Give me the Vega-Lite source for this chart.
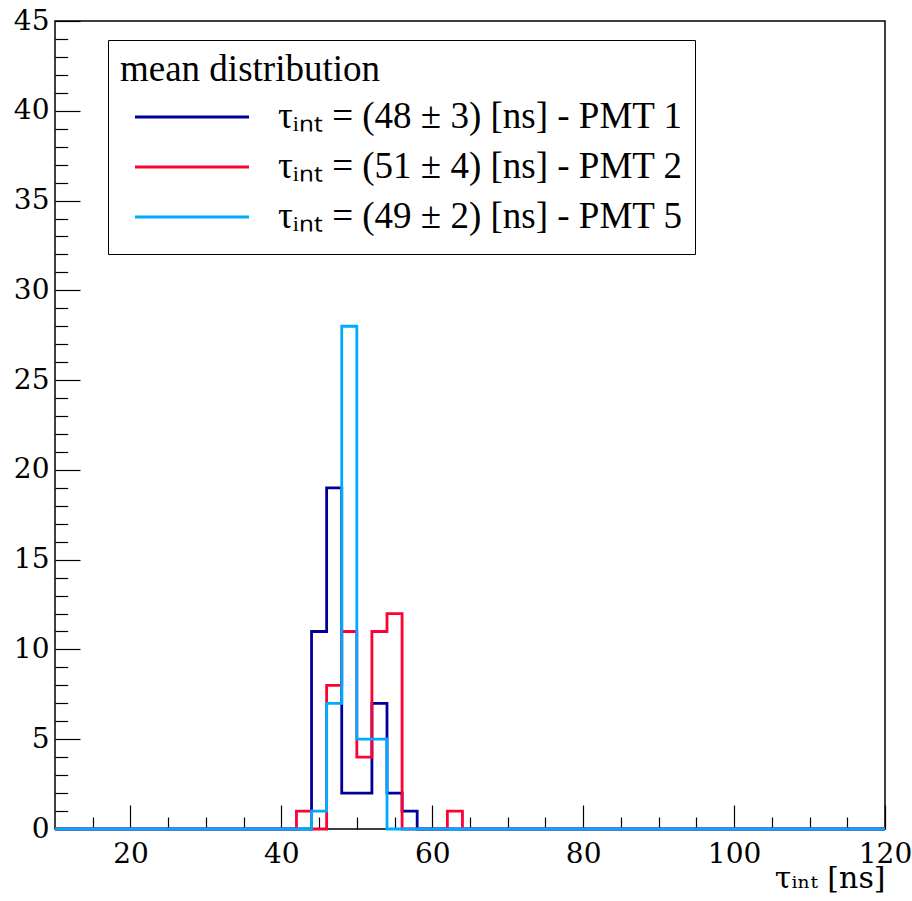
{
  "$schema": "https://vega.github.io/schema/vega-lite/v6.json",
  "autosize": "none",
  "width": 830,
  "height": 808,
  "padding": {"left": 55, "top": 21, "right": 27, "bottom": 72},
  "background": "white",
  "config": {
    "view": {"stroke": "black", "strokeWidth": 1.5},
    "font": "Liberation Serif",
    "axis": {"grid": false, "domain": false, "tickColor": "black", "labelColor": "black", "labelFontSize": 28, "titleFontSize": 30, "titleFontWeight": "normal", "titleColor": "black", "tickWidth": 1.2}
  },
  "data": {"values": [
    {"pmt": "PMT 1", "x": 10, "n": 0},
    {"pmt": "PMT 1", "x": 42, "n": 0},
    {"pmt": "PMT 1", "x": 44, "n": 11},
    {"pmt": "PMT 1", "x": 46, "n": 19},
    {"pmt": "PMT 1", "x": 48, "n": 2},
    {"pmt": "PMT 1", "x": 50, "n": 2},
    {"pmt": "PMT 1", "x": 52, "n": 7},
    {"pmt": "PMT 1", "x": 54, "n": 2},
    {"pmt": "PMT 1", "x": 56, "n": 1},
    {"pmt": "PMT 1", "x": 58, "n": 0},
    {"pmt": "PMT 1", "x": 120, "n": 0},
    {"pmt": "PMT 2", "x": 10, "n": 0},
    {"pmt": "PMT 2", "x": 42, "n": 1},
    {"pmt": "PMT 2", "x": 44, "n": 0},
    {"pmt": "PMT 2", "x": 46, "n": 8},
    {"pmt": "PMT 2", "x": 48, "n": 11},
    {"pmt": "PMT 2", "x": 50, "n": 4},
    {"pmt": "PMT 2", "x": 52, "n": 11},
    {"pmt": "PMT 2", "x": 54, "n": 12},
    {"pmt": "PMT 2", "x": 56, "n": 0},
    {"pmt": "PMT 2", "x": 58, "n": 0},
    {"pmt": "PMT 2", "x": 60, "n": 0},
    {"pmt": "PMT 2", "x": 62, "n": 1},
    {"pmt": "PMT 2", "x": 64, "n": 0},
    {"pmt": "PMT 2", "x": 120, "n": 0},
    {"pmt": "PMT 5", "x": 10, "n": 0},
    {"pmt": "PMT 5", "x": 42, "n": 0},
    {"pmt": "PMT 5", "x": 44, "n": 1},
    {"pmt": "PMT 5", "x": 46, "n": 7},
    {"pmt": "PMT 5", "x": 48, "n": 28},
    {"pmt": "PMT 5", "x": 50, "n": 5},
    {"pmt": "PMT 5", "x": 52, "n": 5},
    {"pmt": "PMT 5", "x": 54, "n": 0},
    {"pmt": "PMT 5", "x": 120, "n": 0}
  ]},
  "layer": [
    {
      "mark": {"type": "line", "opacity": 0},
      "encoding": {
        "x": {"field": "x", "type": "quantitative", "scale": {"domain": [10, 120], "nice": false, "zero": false},
          "axis": {"orient": "bottom", "values": [15, 25, 30, 35, 45, 50, 55, 65, 70, 75, 85, 90, 95, 105, 110, 115], "labels": false, "tickSize": -12, "title": null}},
        "y": {"field": "n", "type": "quantitative", "scale": {"domain": [0, 45], "nice": false},
          "axis": {"orient": "left", "values": [1,2,3,4,6,7,8,9,11,12,13,14,16,17,18,19,21,22,23,24,26,27,28,29,31,32,33,34,36,37,38,39,41,42,43,44], "labels": false, "tickSize": -12.7, "title": null}}
      }
    },
    {
      "mark": {"type": "line", "interpolate": "step-after", "strokeWidth": 2.8},
      "encoding": {
        "x": {"field": "x", "type": "quantitative",
          "axis": {"orient": "bottom", "values": [20, 40, 60, 80, 100, 120], "tickSize": -24, "labelPadding": 35, "labelFlush": false,
            "labelFont": "DejaVu Serif", "labelFontSize": 28, "titleFont": "DejaVu Serif", "titleFontSize": 30,
            "title": "τᵢₙₜ [ns]", "titleAnchor": "end", "titleAlign": "right", "titlePadding": -5}},
        "y": {"field": "n", "type": "quantitative",
          "axis": {"orient": "left", "values": [0, 5, 10, 15, 20, 25, 30, 35, 40, 45], "tickSize": -25, "labelPadding": 31, "labelFlush": false,
            "labelFont": "DejaVu Serif", "labelFontSize": 28, "title": null}},
        "color": {"field": "pmt", "type": "nominal",
          "scale": {"domain": ["PMT 1", "PMT 2", "PMT 5"], "range": ["#000099", "#ff0033", "#00aaff"]},
          "legend": {
            "orient": "none", "legendX": 53, "legendY": 19,
            "title": "mean distribution", "titleLimit": 0,
            "titleFont": "Liberation Serif", "titleFontSize": 37, "titleFontWeight": "normal", "titleColor": "black", "titlePadding": 3,
            "labelFont": "Liberation Serif", "labelFontSize": 37, "labelColor": "black",
            "labelExpr": "datum.label == 'PMT 1' ? 'τᵢₙₜ = (48 ± 3) [ns] - PMT 1' : datum.label == 'PMT 2' ? 'τᵢₙₜ = (51 ± 4) [ns] - PMT 2' : 'τᵢₙₜ = (49 ± 2) [ns] - PMT 5'",
            "labelLimit": 0,
            "symbolType": "stroke", "symbolSize": 13000, "symbolStrokeWidth": 3, "symbolOffset": 13,
            "labelOffset": 27,
            "clipHeight": 50,
            "rowPadding": 0,
            "strokeColor": "black", "fillColor": "white", "padding": 12
          }}
      }
    }
  ],
  "resolve": {"axis": {"x": "independent", "y": "independent"}}
}
